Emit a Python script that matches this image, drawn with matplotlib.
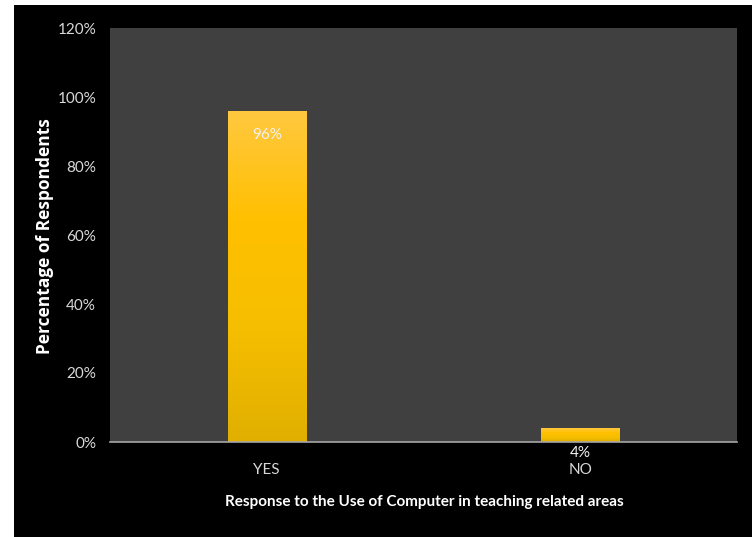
import matplotlib
matplotlib.use("Agg")
import matplotlib.pyplot as plt
import numpy as np
from matplotlib.colors import LinearSegmentedColormap
from matplotlib.patches import Rectangle

categories = ["YES", "NO"]
values = [96, 4]
y_ticks = [0, 20, 40, 60, 80, 100, 120]
y_tick_labels = ["0%", "20%", "40%", "60%", "80%", "100%", "120%"]
x_title = "Response to the Use of Computer in teaching related areas"
y_title = "Percentage of Respondents"

TICK_FONT = ["Lato", "DejaVu Sans"]

fig = plt.figure(figsize=(7.52, 5.37), dpi=100, facecolor="white")
# black chart area
fig.patches.append(Rectangle((14/752, 0), 1 - 14/752, 1 - 5/537,
                             transform=fig.transFigure, facecolor="black",
                             edgecolor="none", zorder=-10))

ax = fig.add_axes([110/752, 1 - 442/537, (737 - 110)/752, (442 - 28)/537])
ax.set_zorder(1)
ax.set_facecolor("#404040")
x = np.arange(len(categories))
bars = ax.bar(x, values, width=0.25, color="none", edgecolor="none", zorder=3)

cmap = LinearSegmentedColormap.from_list("gold", ["#E0AF00", "#F6BE00", "#FFC000", "#FFC840"])
grad = np.linspace(0, 1, 256).reshape(-1, 1)
for b in bars:
    x0, w, h = b.get_x(), b.get_width(), b.get_height()
    im = ax.imshow(grad, cmap=cmap, origin="lower", aspect="auto",
                   extent=[x0, x0 + w, 0, h], zorder=3)
    im.set_clip_path(b)

ax.set_xlim(-0.5, 1.5)
ax.set_ylim(0, 120)
ax.set_yticks(y_ticks)
ax.set_yticklabels(y_tick_labels)
ax.set_xticks(x)
ax.set_xticklabels(categories)

for lab in ax.get_yticklabels() + ax.get_xticklabels():
    lab.set_fontfamily(TICK_FONT)
    lab.set_fontsize(11)
    lab.set_color("#d9d9d9")
ax.tick_params(axis="y", length=0, pad=10)
ax.tick_params(axis="x", length=0, pad=15)

for s in ["top", "right", "left"]:
    ax.spines[s].set_visible(False)
ax.spines["bottom"].set_color("#a6a6a6")
ax.spines["bottom"].set_linewidth(1.2)
ax.spines["bottom"].set_zorder(4)

for xi, v in zip(x, values):
    ax.annotate(f"{v}%", xy=(xi, v), xytext=(0, -17.5), textcoords="offset points",
                ha="center", va="center", color="#f2f2f2",
                family=TICK_FONT, fontsize=11, zorder=5,
                annotation_clip=False)

fig.text(424/752, 1 - 502/537, x_title, ha="center", va="center", color="white",
         family=["Lato", "DejaVu Sans"], fontweight="bold", fontsize=11)
fig.text(45/752, 1 - 236/537, y_title, ha="center", va="center", color="white",
         rotation=90, family=["Open Sans", "DejaVu Sans"], fontweight="bold", fontsize=12.5)

fig.savefig("out.png", dpi=100, facecolor="white")
